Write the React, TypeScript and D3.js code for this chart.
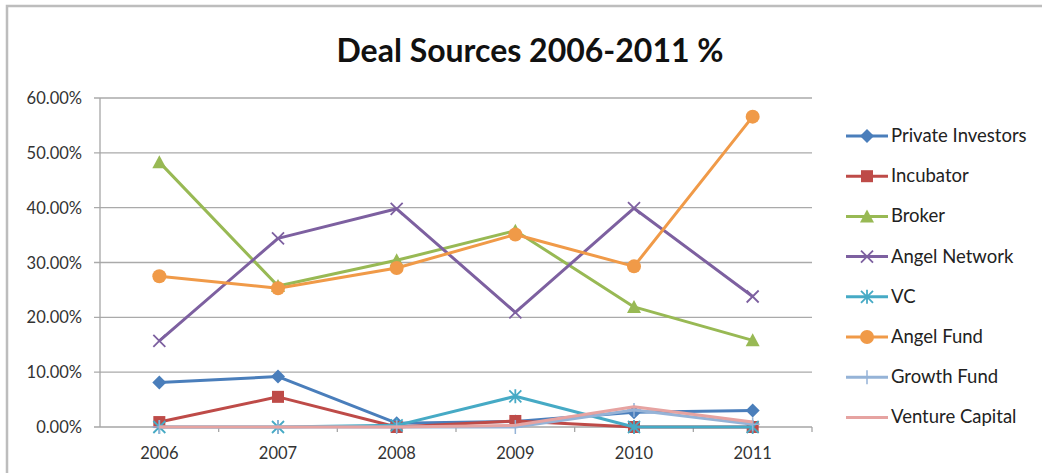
import React from "react";
import * as d3 from "d3";

const years = ["2006", "2007", "2008", "2009", "2010", "2011"];
const yTicks = [0, 10, 20, 30, 40, 50, 60];

const privateInvestors = [8.1, 9.2, 0.7, 1.0, 2.7, 3.0];
const incubator = [0.9, 5.5, 0.0, 1.1, 0.0, 0.0];
const broker = [48.3, 25.7, 30.4, 35.8, 21.9, 15.8];
const angelNetwork = [15.7, 34.4, 39.8, 20.9, 39.9, 23.8];
const vc = [0.0, 0.0, 0.3, 5.6, 0.0, 0.0];
const angelFund = [27.5, 25.3, 29.0, 35.1, 29.3, 56.6];
const growthFund = [0.0, 0.0, 0.0, 0.0, 3.1, 0.5];
const ventureCapital = [0.0, 0.0, 0.0, 0.3, 3.7, 0.9];

const seriesNames = [
  "Private Investors",
  "Incubator",
  "Broker",
  "Angel Network",
  "VC",
  "Angel Fund",
  "Growth Fund",
  "Venture Capital",
];
const seriesValues = [privateInvestors, incubator, broker, angelNetwork, vc, angelFund, growthFund, ventureCapital];
const seriesColors = ["#4A7EBB", "#BE4B48", "#98B954", "#7D60A0", "#46AAC5", "#F09A48", "#95B3D7", "#E6A3A1"];
const seriesMarkers = ["diamond", "square", "triangle", "x", "asterisk", "circle", "plus", "none"];

const FONT = "Lato, 'Open Sans', sans-serif";

function Marker({ type, x, y, color }: { type: string; x: number; y: number; color: string }) {
  const s = 6;
  switch (type) {
    case "diamond":
      return <path d={`M${x},${y - s - 1}L${x + s + 1},${y}L${x},${y + s + 1}L${x - s - 1},${y}Z`} fill={color} />;
    case "square":
      return <rect x={x - s} y={y - s} width={2 * s} height={2 * s} fill={color} />;
    case "triangle":
      return <path d={`M${x},${y - s - 1}L${x + s + 1},${y + s}L${x - s - 1},${y + s}Z`} fill={color} />;
    case "x":
      return (
        <path
          d={`M${x - s},${y - s}L${x + s},${y + s}M${x - s},${y + s}L${x + s},${y - s}`}
          stroke={color}
          strokeWidth={1.8}
          fill="none"
        />
      );
    case "asterisk":
      return (
        <path
          d={`M${x - s},${y - s}L${x + s},${y + s}M${x - s},${y + s}L${x + s},${y - s}M${x},${y - s - 1}L${x},${y + s + 1}`}
          stroke={color}
          strokeWidth={1.8}
          fill="none"
        />
      );
    case "circle":
      return <circle cx={x} cy={y} r={s + 1} fill={color} />;
    case "plus":
      return (
        <path
          d={`M${x - s - 1},${y}L${x + s + 1},${y}M${x},${y - s - 1}L${x},${y + s + 1}`}
          stroke={color}
          strokeWidth={1.5}
          fill="none"
        />
      );
    default:
      return null;
  }
}

export default function App() {
  const width = 1042;
  const height = 473;
  const left = 100;
  const right = 812;
  const top = 98;
  const bottom = 427;

  const x = d3.scaleBand<string>().domain(years).range([left, right]);
  const y = d3.scaleLinear().domain([0, 60]).range([bottom, top]);
  const cx = (yr: string) => (x(yr) as number) + x.bandwidth() / 2;

  const line = d3
    .line<number>()
    .x((_, i) => cx(years[i]))
    .y((d) => y(d));

  const legendX = 846;
  const legendY0 = 136;
  const legendStep = 40.2;

  return (
    <svg
      width={width}
      height={height}
      style={{ position: "absolute", left: 0, top: 0, background: "#fff" }}
      fontFamily={FONT}
    >
      <rect x={0} y={0} width={width} height={height} fill="#fff" />
      {/* chart frame */}
      <path d={`M7,${height + 5}L7,6L${width + 5},6`} stroke="#bdbdbd" strokeWidth={2.5} fill="none" />

      <text x={530} y={62} textAnchor="middle" fontSize={32} fontWeight="bold" fill="#111">
        Deal Sources 2006-2011 %
      </text>

      {/* gridlines */}
      {yTicks.map((t) => (
        <g key={t}>
          <line x1={left - 6} x2={right} y1={y(t)} y2={y(t)} stroke={t === 0 ? "#a6a6a6" : "#aaaaaa"} strokeWidth={1.3} />
          <text x={82} y={y(t) + 6} textAnchor="end" fontSize={16.5} fill="#333">
            {t.toFixed(2) + "%"}
          </text>
        </g>
      ))}
      {/* y axis */}
      <line x1={left} x2={left} y1={top} y2={bottom} stroke="#a6a6a6" strokeWidth={1.3} />
      {/* x ticks */}
      {years.map((yr) => (
        <line
          key={"t" + yr}
          x1={(x(yr) as number) + x.bandwidth()}
          x2={(x(yr) as number) + x.bandwidth()}
          y1={bottom}
          y2={bottom + 5}
          stroke="#a6a6a6"
          strokeWidth={1.3}
        />
      ))}
      {years.map((yr) => (
        <text key={yr} x={cx(yr)} y={459} textAnchor="middle" fontSize={16.5} fill="#333">
          {yr}
        </text>
      ))}

      {/* series */}
      {seriesValues.map((vals, si) => (
        <g key={seriesNames[si]}>
          <path d={line(vals) || ""} fill="none" stroke={seriesColors[si]} strokeWidth={3} strokeLinejoin="round" />
          {vals.map((v, i) => (
            <Marker key={i} type={seriesMarkers[si]} x={cx(years[i])} y={y(v)} color={seriesColors[si]} />
          ))}
        </g>
      ))}

      {/* legend */}
      {seriesNames.map((name, i) => {
        const ly = legendY0 + i * legendStep;
        return (
          <g key={"lg" + name}>
            <line x1={legendX} x2={legendX + 42} y1={ly} y2={ly} stroke={seriesColors[i]} strokeWidth={3} />
            <Marker type={seriesMarkers[i]} x={legendX + 21} y={ly} color={seriesColors[i]} />
            <text x={legendX + 45} y={ly + 6} fontSize={18.5} fill="#222">
              {name}
            </text>
          </g>
        );
      })}
    </svg>
  );
}
